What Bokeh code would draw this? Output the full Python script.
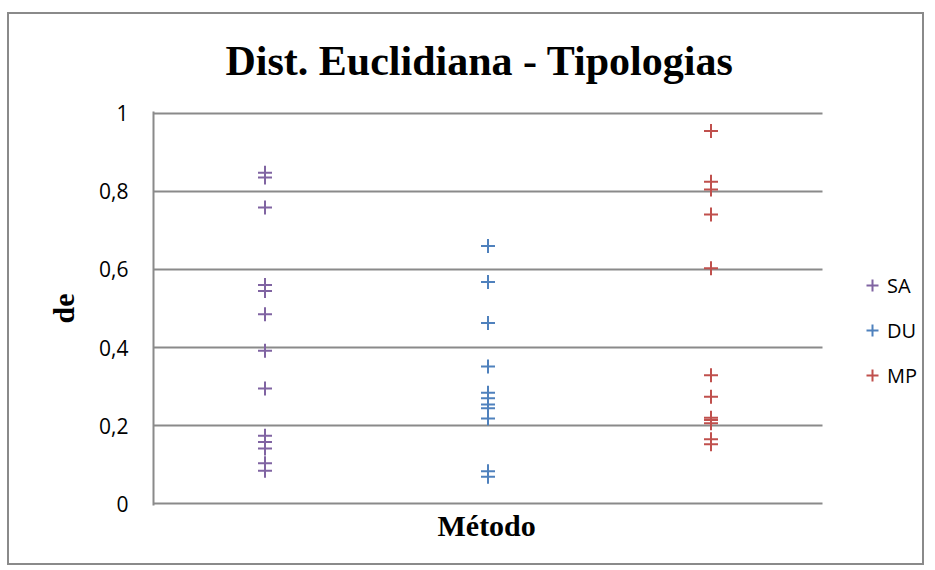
from bokeh.plotting import figure
from bokeh.models import (Range1d, FixedTicker, Legend, LegendItem,
                          ColumnDataSource, Title)
from bokeh.embed import file_html
from bokeh.resources import INLINE

# ---- data ----
series_names = ["SA", "DU", "MP"]
series_x = [1, 2, 3]
sa_values = [0.848, 0.836, 0.759, 0.560, 0.545, 0.485, 0.392, 0.295,
             0.174, 0.158, 0.141, 0.103, 0.084]
du_values = [0.660, 0.568, 0.463, 0.351, 0.284, 0.270, 0.254, 0.244,
             0.218, 0.083, 0.069]
mp_values = [0.955, 0.825, 0.805, 0.741, 0.603, 0.329, 0.274, 0.220,
             0.214, 0.206, 0.165, 0.152]
series_colors = ["#8064A2", "#4F81BD", "#C0504D"]
y_ticks = [0, 0.2, 0.4, 0.6, 0.8, 1.0]
y_tick_labels = ["0", "0,2", "0,4", "0,6", "0,8", "1"]
title_text = "Dist. Euclidiana - Tipologias"
x_label = "Método"
y_label = "de"

GRID = "#8a8a8a"

# plot area spans x 0.5..3.5 over 669 px; the frame extends further right
# (773 px) so the legend can sit inside it.
X0, X1 = 0.5, 3.5
FRAME_W, AREA_W = 773, 669
x_end = X0 + (X1 - X0) * FRAME_W / AREA_W

p = figure(width=917, height=553, output_backend="svg", toolbar_location=None,
           title=None,
           x_range=Range1d(X0, x_end), y_range=Range1d(-0.005, 1.005),
           min_border_left=144, min_border_right=0,
           min_border_top=97, min_border_bottom=62)
p.margin = (12, 0, 0, 7)
p.styles = {"border": f"2px solid {GRID}"}
p.outline_line_color = None
p.background_fill_color = "white"
p.border_fill_color = "white"

# spacer between plot area and title, then the title itself
p.add_layout(Title(text=" ", standoff=23, text_font_size="1px"), "above")
p.add_layout(Title(text=title_text, align="left", offset=72, standoff=4,
                   text_font="Liberation Serif", text_font_style="bold",
                   text_font_size="42px", text_color="black"), "above")

# y axis
p.yaxis.ticker = FixedTicker(ticks=y_ticks)
p.yaxis.major_label_overrides = {t: l for t, l in zip(y_ticks, y_tick_labels)}
p.yaxis.major_tick_out = 0
p.yaxis.major_tick_in = 0
p.yaxis.minor_tick_out = 0
p.yaxis.minor_tick_in = 0
p.yaxis.major_label_standoff = 25
p.yaxis.major_label_text_font = "Open Sans"
p.yaxis.major_label_text_font_size = "21px"
p.yaxis.major_label_text_color = "black"
p.yaxis.axis_line_color = GRID
p.yaxis.axis_line_width = 2
p.yaxis.axis_label = y_label
p.yaxis.axis_label_standoff = 16
p.yaxis.axis_label_text_font = "Liberation Serif"
p.yaxis.axis_label_text_font_style = "bold"
p.yaxis.axis_label_text_font_size = "30px"
p.yaxis.axis_label_text_color = "black"

# x axis: hidden line/ticks, label as a title below the plot area
p.xaxis.visible = False
p.add_layout(Title(text=x_label, align="left", offset=284, standoff=2,
                   text_font="Liberation Serif", text_font_style="bold",
                   text_font_size="30px", text_color="black"), "below")

p.xgrid.visible = False
p.ygrid.visible = False

# horizontal grid lines + x axis line across the plot area only
p.segment(x0=[X0] * len(y_ticks), x1=[X1] * len(y_ticks),
          y0=y_ticks, y1=y_ticks, line_color=GRID, line_width=2)

# points
items = []
for name, xv, vals, col in zip(series_names, series_x,
                               [sa_values, du_values, mp_values], series_colors):
    src = ColumnDataSource(dict(x=[xv] * len(vals), y=vals))
    r = p.scatter("x", "y", source=src, marker="cross", size=14,
                  line_color=col, line_width=2)
    items.append(LegendItem(label=name, renderers=[r]))

legend = Legend(items=items, location=(704, 113), orientation="vertical",
                border_line_color=None, background_fill_alpha=0,
                padding=0, margin=0, spacing=11, glyph_height=34,
                label_height=34, glyph_width=30, label_standoff=0,
                label_text_font="Open Sans", label_text_font_size="20px",
                label_text_color="black")
p.add_layout(legend, "center")

open("out.html", "w").write(file_html(p, INLINE))
